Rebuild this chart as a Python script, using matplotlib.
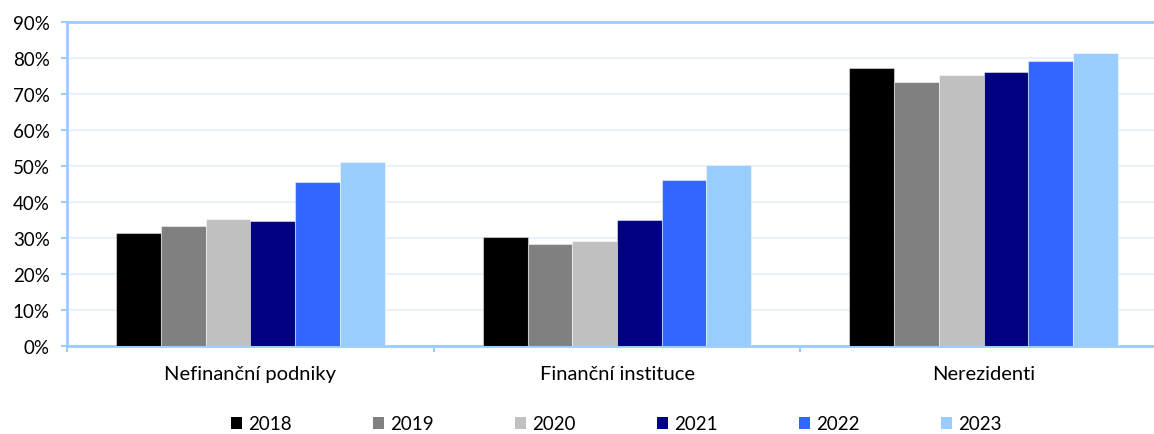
import numpy as np
import matplotlib.pyplot as plt
from matplotlib.patches import Patch

plt.rcParams['font.family'] = ['Lato', 'DejaVu Sans']

categories = ['Nefinanční podniky', 'Finanční instituce', 'Nerezidenti']
years = ['2018', '2019', '2020', '2021', '2022', '2023']
v2018 = [31.3, 30.4, 77.1]
v2019 = [33.3, 28.4, 73.2]
v2020 = [35.3, 29.2, 75.3]
v2021 = [34.7, 35.0, 76.0]
v2022 = [45.6, 46.2, 79.3]
v2023 = [51.1, 50.4, 81.4]
series = [v2018, v2019, v2020, v2021, v2022, v2023]
colors = ['#000000', '#808080', '#C0C0C0', '#000080', '#3366FF', '#99CCFF']

W, H = 1154, 435
fig = plt.figure(figsize=(W / 100, H / 100), dpi=100)
# axes runs a bit past the right edge, like the original
ax = fig.add_axes([67 / W, 1 - 347 / H, 1100 / W, 324 / H])

x = np.arange(len(categories))
bw = 0.122
for i, (vals, c) in enumerate(zip(series, colors)):
    ax.bar(x + (i - 2.5) * bw, vals, bw, color=c, edgecolor=(1, 1, 1, 0.45),
           linewidth=0.8, zorder=3)

ax.set_xlim(-0.5, 2.5)
ax.set_ylim(0, 90)
ax.set_yticks(np.arange(0, 91, 10))
ax.set_yticklabels([f'{v}%' for v in range(0, 91, 10)], fontsize=13.5)
ax.yaxis.grid(True, color='#E3F0FF', linewidth=1.2, zorder=0)

ax.set_xticks([-0.5, 0.5, 1.5, 2.5])
ax.set_xticklabels([])
ax.set_xticks(x, minor=True)
ax.set_xticklabels(categories, minor=True, fontsize=14.5)
ax.tick_params(axis='x', which='minor', length=0, pad=14)
ax.tick_params(axis='x', which='major', length=4.5, width=1.5, color='#99CCFF')
ax.tick_params(axis='y', length=4.5, width=1.5, color='#99CCFF', pad=8)

for s in ax.spines.values():
    s.set_color('#99CCFF')
    s.set_linewidth(2)

handles = [Patch(facecolor=c, edgecolor='none') for c in colors]
fig.legend(handles, years, loc='center', bbox_to_anchor=(0.534, 1 - 425 / H),
           ncol=6, frameon=False, fontsize=13.5, handlelength=0.6,
           handleheight=0.6, handletextpad=0.35, columnspacing=4.3,
           borderpad=0.1)

fig.savefig('out.png', dpi=100)
